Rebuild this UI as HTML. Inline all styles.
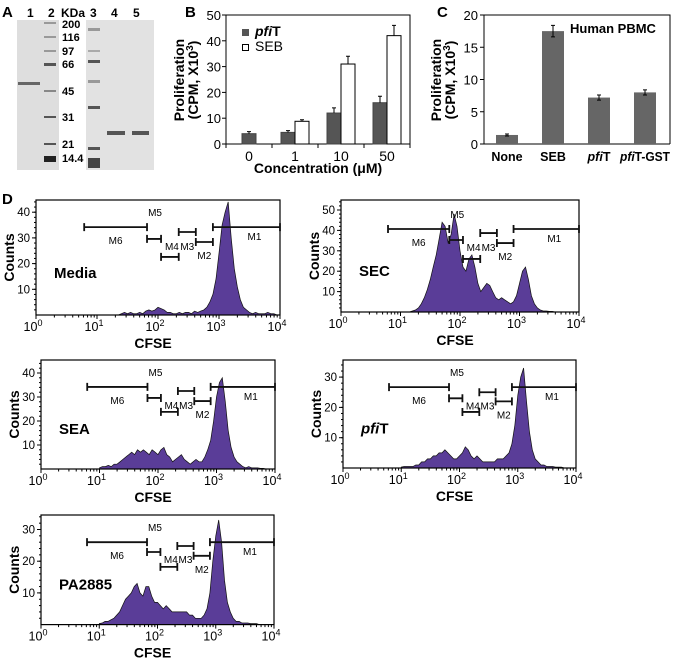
<!DOCTYPE html>
<html><head><meta charset="utf-8"><style>
body{margin:0;background:#fff;}
svg{display:block;font-family:"Liberation Sans",Arial,sans-serif;}
.b{font-weight:bold;}
</style></head><body>
<svg id="fig" width="674" height="659" viewBox="0 0 674 659" xmlns="http://www.w3.org/2000/svg">
<g id="pa">
<text x="2" y="17" class="b" font-size="15">A</text>
<rect x="17" y="20" width="42" height="150" fill="#dedede"/>
<rect x="86" y="20" width="68" height="150" fill="#e2e2e2"/>
<text x="27" y="17" class="b" font-size="12">1</text>
<text x="48" y="17" class="b" font-size="12">2</text>
<text x="61" y="17" class="b" font-size="12">KDa</text>
<text x="90" y="17" class="b" font-size="12">3</text>
<text x="111" y="17" class="b" font-size="12">4</text>
<text x="133" y="17" class="b" font-size="12">5</text>
<g class="b" font-size="11">
<text x="62" y="28">200</text><text x="62" y="41">116</text><text x="62" y="55">97</text><text x="62" y="68">66</text><text x="62" y="95">45</text><text x="62" y="121">31</text><text x="62" y="148">21</text><text x="62" y="162">14.4</text>
</g>
<g fill="#555">
<rect x="18" y="82" width="22" height="3" fill="#666"/>
<rect x="44" y="22" width="12" height="2" fill="#999"/><rect x="44" y="36" width="12" height="2" fill="#999"/><rect x="44" y="50" width="12" height="2" fill="#999"/><rect x="44" y="63" width="12" height="3"/><rect x="44" y="90" width="12" height="2" fill="#888"/><rect x="44" y="116" width="12" height="2"/><rect x="44" y="143" width="12" height="2"/><rect x="44" y="156" width="12" height="6" fill="#222"/>
<rect x="88" y="28" width="12" height="3" fill="#999"/><rect x="88" y="50" width="12" height="2" fill="#aaa"/><rect x="88" y="60" width="12" height="3"/><rect x="88" y="80" width="12" height="3" fill="#999"/><rect x="88" y="106" width="12" height="3"/><rect x="88" y="147" width="12" height="3"/><rect x="88" y="158" width="12" height="10" fill="#444"/>
<rect x="107" y="131" width="18" height="4"/><rect x="132" y="131" width="17" height="4"/>
</g>
</g>
<g id="pb"></g>
<g id="pc"></g>
<g id="pd">
<text x="2" y="204" class="b" font-size="15">D</text>
</g>
</svg>
<script>
// Panel B data
const bCats = ["0","1","10","50"];
const bPfiT = [4, 4.5, 12, 16];
const bPfiTErr = [0.8, 0.7, 2, 2.5];
const bSEB = [null, 8.8, 31, 42];
const bSEBErr = [null, 0.6, 3, 4];
const bTicks = [0,10,20,30,40,50];
// Panel C data
const cCats = ["None","SEB","pfiT","pfiT-GST"];
const cVals = [1.4, 17.5, 7.2, 8.0];
const cErr = [0.15, 0.9, 0.4, 0.4];
const cTicks = [0,5,10,15,20];
// Panel D histogram data: counts at log10(CFSE) = 1.0,1.05,...,4.0
const histLogStart = 1.0;
const histLogStep = 0.05;
const mediaCounts = [0,0,0,0,0,0,0,0,0.5,1, 0.5,1,0.5,0.5,1,0.5,1.5,2,1.5,2, 3,2.5,2,1,1,0.5,0.5,1,0.5,1, 1,0.5,1.5,1,1.5,2,3,5,8,14, 24,35,40,44,30,18,11,6,3,2, 1,0.5,1,0.5,0.5,0.5,1,0.5,0.5,0, 0];
const secCounts = [0,0,0,0,0.5,1,2,4,7,11, 16,22,28,36,44,42,34,38,48,42, 30,22,20,26,28,22,14,10,12,14, 13,10,7,6,7,6,5,4,5,8, 14,20,22,16,8,4,2,1,0.5,0.5, 0.3,0.3,0,0,0,0,0,0,0,0, 0];
const seaCounts = [0.5,1,1,1.5,1,2,2,3,4,5, 6,7,6,8,7,8,7,6,8,7, 6,8,9,6,5,3,4,5,6,4, 3,2,3,4,3,3,5,8,12,20, 30,36,38,28,16,9,5,3,2,1, 0.5,1,0.5,0.5,0.5,0.3,0.3,0,0,0, 0];
const pfitCounts = [0.3,0.5,0.5,0.5,0.5,1,1,2,2,3, 3,4,4,5,5,6,5,4,3,3, 4,5,7,6,4,3,4,3,2,2, 2,2,2,3,3,3,4,5,8,14, 24,30,33,22,12,6,3,2,1,1, 0.5,0.5,0.5,0.3,0.3,0.3,0,0,0,0, 0];
const paCounts = [0.3,0.5,1,1,1.5,2,3,4,6,8, 9,10,12,13,10,9,12,12,9,7, 7,6,5,6,5,4,4,4,4,4, 4,3,3,2,2,2,3,5,10,20, 28,33,26,14,7,4,2,1,1,0.5, 0.5,0.5,0.3,0.3,0.3,0,0,0,0,0, 0];
const gateNames = ["M6","M5","M4","M3","M2","M1"];
const gateLo = [0.79,1.82,2.05,2.34,2.62,2.9];
const gateHi = [1.82,2.05,2.34,2.62,2.9,4];
const mediaGates = [34.2,29.6,22.6,32.3,28.4,34.2];
const secGates = [40.7,35.3,26,38.7,33.8,40.7];
const seaGates = [34.2,29.6,23.8,32.5,28.3,34.2];
const pfitGates = [26.7,23,18.5,25,22,26.7];
const paGates = [26,22.9,18.2,24.8,21.7,26];
const xTickExp = [0,1,2,3,4];

const NS="http://www.w3.org/2000/svg";
function mk(parent, tag, attrs, text){const e=document.createElementNS(NS,tag);for(const k in attrs)e.setAttribute(k,attrs[k]);if(text!==undefined)e.textContent=text;parent.appendChild(e);return e;}

// ---------- Panel B ----------
(function(){
const g=document.getElementById('pb');
const x0=226,x1=410,y0=144,y1=15,ymax=50;
const ys=v=>y0-(v/ymax)*(y0-y1);
const band=(x1-x0)/bCats.length;
const cx=i=>x0+band*(i+0.5);
let t=mk(g,'text',{x:185,y:17,'font-size':15,'class':'b'},'B');

let r=mk(g,'rect',{x:x0,y:y1,width:x1-x0,height:y0-y1,fill:'none',stroke:'#000','stroke-width':1});

bTicks.forEach(v=>{const l=mk(g,'line',{x1:x0-4,x2:x0,y1:ys(v),y2:ys(v),stroke:'#000'});

const tt=mk(g,'text',{x:x0-5,y:ys(v)+5,'font-size':13,'text-anchor':'end'},String(v));
});
for(let i=0;i<=bCats.length;i++){const l=mk(g,'line',{x1:x0+band*i,x2:x0+band*i,y1:y0,y2:y0+4,stroke:'#000'});}
bCats.forEach((c,i)=>{const tt=mk(g,'text',{x:cx(i),y:y0+17,'font-size':14,'text-anchor':'middle'},c);

const bw=14;
if(bPfiT[i]!=null){const bx=bSEB[i]==null?cx(i)-bw/2:cx(i)-bw;
const b=mk(g,'rect',{x:bx,y:ys(bPfiT[i]),width:bw,height:y0-ys(bPfiT[i]),fill:'#555',stroke:'#444'});

const e=mk(g,'path',{d:`M${bx+bw/2},${ys(bPfiT[i])}V${ys(bPfiT[i]+bPfiTErr[i])}M${bx+bw/2-2},${ys(bPfiT[i]+bPfiTErr[i])}h4`,stroke:'#000',fill:'none'});
}
if(bSEB[i]!=null){const bx=cx(i);
const b=mk(g,'rect',{x:bx,y:ys(bSEB[i]),width:bw,height:y0-ys(bSEB[i]),fill:'#fff',stroke:'#000'});

const e=mk(g,'path',{d:`M${bx+bw/2},${ys(bSEB[i])}V${ys(bSEB[i]+bSEBErr[i])}M${bx+bw/2-2},${ys(bSEB[i]+bSEBErr[i])}h4`,stroke:'#000',fill:'none'});
}
});
const xt=mk(g,'text',{x:318,y:173,'font-size':14,'class':'b','text-anchor':'middle'},'Concentration (\u03bcM)');

const yt=mk(g,'text',{transform:'translate(184,80) rotate(-90)','font-size':14,'class':'b','text-anchor':'middle'});

mk(yt,'tspan',{x:0,y:0},'Proliferation');mk(yt,'tspan',{x:0,y:14},'(CPM, X10');mk(yt,'tspan',{dy:-5,'font-size':10},'3');mk(yt,'tspan',{dy:5},')');
const lg=mk(g,'g',{});
const l1=mk(lg,'rect',{x:242,y:29,width:7,height:7,fill:'#555'});
const t1=mk(lg,'text',{x:255,y:36,'font-size':14,'class':'b'});
mk(t1,'tspan',{'font-style':'italic'},'pfi');mk(t1,'tspan',{},'T');
const l2=mk(lg,'rect',{x:242.5,y:44.5,width:6,height:6,fill:'#fff',stroke:'#000'});
const t2=mk(lg,'text',{x:255,y:51,'font-size':14},'SEB');
})();

// ---------- Panel C ----------
(function(){
const g=document.getElementById('pc');
const x0=484,x1=670,y0=144,y1=15,ymax=20,band=46;
const ys=v=>y0-(v/ymax)*(y0-y1);
const cx=i=>x0+band*(i+0.5);
let t=mk(g,'text',{x:437,y:17,'font-size':15,'class':'b'},'C');

let r=mk(g,'path',{d:`M${x0},${y1}H${x1}V${y0}M${x0},${y1}V${y0}H${x1}`,fill:'none',stroke:'#000'});

cTicks.forEach(v=>{const l=mk(g,'line',{x1:x0-4,x2:x0,y1:ys(v),y2:ys(v),stroke:'#000'});
const tt=mk(g,'text',{x:x0-6,y:ys(v)+5,'font-size':13,'text-anchor':'end'},String(v));});
cCats.forEach((c,i)=>{
const b=mk(g,'rect',{x:cx(i)-11,y:ys(cVals[i]),width:22,height:y0-ys(cVals[i]),fill:'#666'});

const e=mk(g,'path',{d:`M${cx(i)},${ys(cVals[i]-cErr[i])}V${ys(cVals[i]+cErr[i])}M${cx(i)-2},${ys(cVals[i]+cErr[i])}h4M${cx(i)-2},${ys(cVals[i]-cErr[i])}h4`,stroke:'#000',fill:'none'});

const attrs={x:cx(i),y:161,'font-size':12.5,'class':'b','text-anchor':'middle'};
if(c.length>6){attrs.textLength=50;attrs.lengthAdjust='spacingAndGlyphs';}
const tt=mk(g,'text',attrs);

if(c.startsWith('pfiT')){mk(tt,'tspan',{'font-style':'italic'},'pfi');mk(tt,'tspan',{},c.slice(3));}else tt.textContent=c;
});
const ht=mk(g,'text',{x:570,y:33,'font-size':13,'class':'b'},'Human PBMC');
const yt=mk(g,'text',{transform:'translate(441,80) rotate(-90)','font-size':14,'class':'b','text-anchor':'middle'});

mk(yt,'tspan',{x:0,y:0},'Proliferation');mk(yt,'tspan',{x:0,y:14},'(CPM, X10');mk(yt,'tspan',{dy:-5,'font-size':10},'3');mk(yt,'tspan',{dy:5},')');
})();

// ---------- Panel D ----------
function hist(name,label,italic,box,counts,gates,yTicks){
const G=document.getElementById('pd');
const g=mk(G,'g',{});
const [x0,x1,yTop,y0,perUnit]=box;
const xs=L=>x0+(x1-x0)*L/4;
const ys=v=>y0-v*perUnit;
let d=`M${xs(histLogStart)},${y0}`;
counts.forEach((c,i)=>{d+=`L${xs(histLogStart+i*histLogStep).toFixed(1)},${Math.max(yTop,ys(c)).toFixed(1)}`;});
d+=`L${xs(histLogStart+(counts.length-1)*histLogStep)},${y0}Z`;
const a=mk(g,'path',{d:d,fill:'#5a3d98',stroke:'#111','stroke-width':0.7});

const f=mk(g,'rect',{x:x0,y:yTop,width:x1-x0,height:y0-yTop,fill:'none',stroke:'#000','stroke-width':1.2});

yTicks.forEach(v=>{const l=mk(g,'line',{x1:x0-4,x2:x0,y1:ys(v),y2:ys(v),stroke:'#000'});
const tt=mk(g,'text',{x:x0-6,y:ys(v)+4,'font-size':11.5,'text-anchor':'end'},String(v));});
for(let v=2;ys(v)>yTop;v+=2){const l=mk(g,'line',{x1:x0-2,x2:x0,y1:ys(v),y2:ys(v),stroke:'#000'});}
xTickExp.forEach(e=>{const l=mk(g,'line',{x1:xs(e),x2:xs(e),y1:y0,y2:y0+4,stroke:'#000'});
const tt=mk(g,'text',{x:xs(e)-3,y:y0+16,'font-size':12.5,'text-anchor':'middle'});
mk(tt,'tspan',{},'10');mk(tt,'tspan',{dy:-5,'font-size':9},String(e));
if(e<4)for(let k=2;k<10;k++){const m=mk(g,'line',{x1:xs(e+Math.log10(k)),x2:xs(e+Math.log10(k)),y1:y0,y2:y0+2.5,stroke:'#000'});}});
const xt=mk(g,'text',{x:(x0+x1)/2-5,y:y0+33,'font-size':14,'class':'b','text-anchor':'middle'},'CFSE');
const yt=mk(g,'text',{transform:`translate(${x0-22},${(yTop+y0)/2}) rotate(-90)`,'font-size':14,'class':'b','text-anchor':'middle'},'Counts');
const st=mk(g,'text',{x:x0+18,y:ys(0)-(y0-yTop)*0.32,'font-size':15,'class':'b'});
if(italic){mk(st,'tspan',{'font-style':'italic'},'pfi');mk(st,'tspan',{},'T');}else st.textContent=label;
gateNames.forEach((n,i)=>{const xa=xs(gateLo[i]),xb=xs(gateHi[i]),y=ys(gates[i]);
const p=mk(g,'path',{d:`M${xa},${y}H${xb}M${xa},${y-4}V${y+4}M${xb},${y-4}V${y+4}`,stroke:'#111','stroke-width':1.8,fill:'none'});

let lx,ly;
if(n==='M6'){lx=(xa+xb)/2;ly=y+17;}
else if(n==='M5'){lx=xa+8;ly=ys(gates[0])-11;}
else if(n==='M4'){lx=(xa+xb)/2+2;ly=ys(gates[1])+11;}
else if(n==='M3'){lx=(xa+xb)/2;ly=ys(gates[1])+11;}
else if(n==='M2'){lx=(xa+xb)/2;ly=y+17;}
else {lx=(xa+xb)/2+8;ly=y+13;}
const tt=mk(g,'text',{x:lx,y:ly,'font-size':10,'text-anchor':'middle'},n);

});
}
hist('media','Media',false,[36,280,200,315,2.57],mediaCounts,mediaGates,[10,20,30,40]);
hist('sec','SEC',false,[341,579,200,312,2.04],secCounts,secGates,[10,20,30,40,50]);
hist('sea','SEA',false,[41,275,360,469,2.4],seaCounts,seaGates,[10,20,30,40]);
hist('pfit','pfiT',true,[343,576,360,468,3.03],pfitCounts,pfitGates,[10,20,30]);
hist('pa2885','PA2885',false,[41,274,515,624.6,3.17],paCounts,paGates,[10,20,30]);
</script>
</body></html>
